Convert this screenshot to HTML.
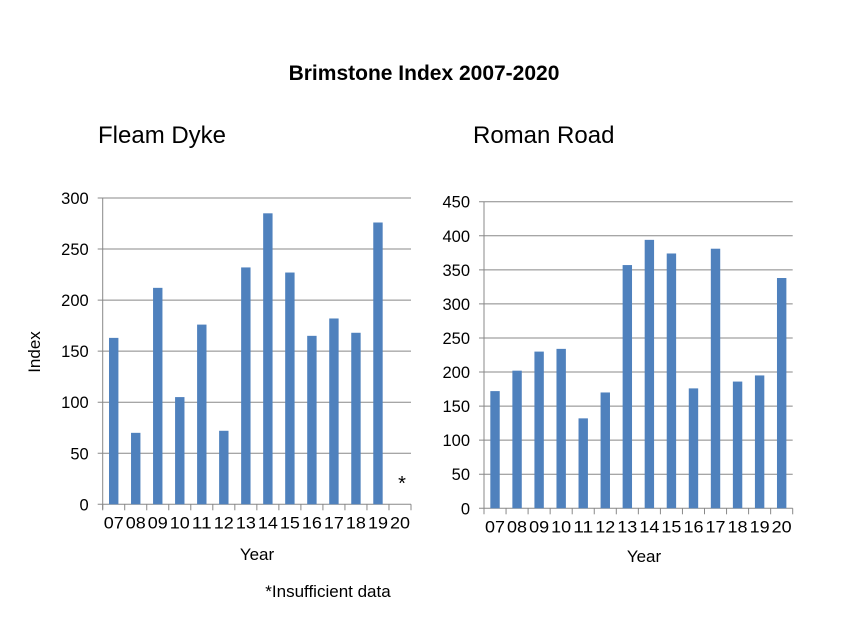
<!DOCTYPE html>
<html><head><meta charset="utf-8"><style>
html,body{margin:0;padding:0;background:#fff;}
svg{display:block;font-family:"Liberation Sans",sans-serif;}
</style></head><body>
<svg id="s" width="848" height="636" xmlns="http://www.w3.org/2000/svg">
<text x="424" y="80" text-anchor="middle" font-size="21" font-weight="bold" fill="#000">Brimstone Index 2007-2020</text>
<text x="98" y="143" font-size="24" fill="#000">Fleam Dyke</text>
<text x="473" y="143" font-size="24" fill="#000">Roman Road</text>
<text x="40" y="352" font-size="17" fill="#000" text-anchor="middle" transform="rotate(-90 40 352)">Index</text>
<text x="257" y="560" font-size="17" text-anchor="middle">Year</text>
<text x="644" y="562" font-size="17" text-anchor="middle">Year</text>
<text x="328" y="597" font-size="17" text-anchor="middle">*Insufficient data</text>
<text x="402" y="490" font-size="20" text-anchor="middle">*</text>
<g id="g"></g>
</svg>
<script>
var g=document.getElementById('g'),h='';
function chart(x0,x1,yb,yt,max,step,vals){
  var lbl=['07','08','09','10','11','12','13','14','15','16','17','18','19','20'];
  var cw=(x1-x0)/14;
  for(var v=0;v<=max;v+=step){
    var y=yb-(yb-yt)*v/max;
    h+='<line x1="'+(x0-5)+'" x2="'+x1+'" y1="'+y+'" y2="'+y+'" stroke="#888" stroke-width="1"/>';
    h+='<text x="'+(x0-14)+'" y="'+(y+6)+'" font-size="16.5" text-anchor="end">'+v+'</text>';
  }
  h+='<line x1="'+x0+'" x2="'+x0+'" y1="'+yt+'" y2="'+(yb+5)+'" stroke="#888"/>';
  for(var i=0;i<=14;i++){var x=x0+cw*i;h+='<line x1="'+x+'" x2="'+x+'" y1="'+yb+'" y2="'+(yb+6)+'" stroke="#888"/>';}
  for(var i=0;i<14;i++){
    var cx=x0+cw*(i+0.5);
    if(vals[i]>0){var bh=(yb-yt)*vals[i]/max;
      h+='<rect x="'+(cx-4.7)+'" y="'+(yb-bh)+'" width="9.4" height="'+bh+'" fill="#4f81bd"/>';}
    h+='<text x="'+cx+'" y="'+(yb+24)+'" font-size="16.5" text-anchor="middle" textLength="20" lengthAdjust="spacingAndGlyphs">'+lbl[i]+'</text>';
  }
}
chart(102.7,411,504.3,198,300,50,[163,70,212,105,176,72,232,285,227,165,182,168,276,0]);
chart(484,792.7,508.3,201.7,450,50,[172,202,230,234,132,170,357,394,374,176,381,186,195,338]);
g.innerHTML=h;
</script>
</body></html>
